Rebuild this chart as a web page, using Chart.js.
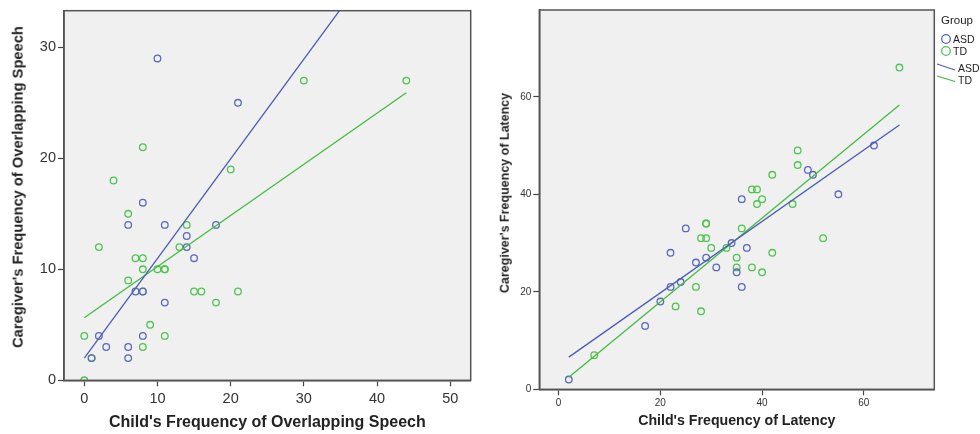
<!DOCTYPE html>
<html>
<head>
<meta charset="utf-8">
<script src="https://cdn.jsdelivr.net/npm/chart.js@4.4.1/dist/chart.umd.min.js"></script>
<style>
  html, body { margin: 0; padding: 0; background: #fff; width: 980px; height: 434px; overflow: hidden; }
  .box { position: absolute; top: 0; height: 434px; }
  #leftBox { left: 0; width: 480px; }
  #rightBox { left: 480px; width: 500px; }
  .lg { position: absolute; font-family: "Liberation Sans", Arial, sans-serif; color: #222; white-space: nowrap; line-height: 1; }
  .ytitle { position: absolute; width: 0; height: 0; }
  .ytitle span { position: absolute; left: 0; top: 0; transform: translate(-50%, -50%) rotate(-90deg);
    font-family: "Liberation Sans", Arial, sans-serif; font-weight: bold; color: #222; white-space: nowrap; line-height: 1; }
  #legendSvg { position: absolute; left: 930px; top: 0; width: 50px; height: 100px; }
</style>
</head>
<body>
<div id="leftBox" class="box"><canvas id="leftChart"></canvas></div>
<div id="rightBox" class="box"><canvas id="rightChart"></canvas></div>

<div class="ytitle" style="left:18px;top:187px;"><span style="font-size:14.7px;">Caregiver's Frequency of Overlapping Speech</span></div>
<div class="ytitle" style="left:505px;top:193px;"><span style="font-size:12.5px;">Caregiver's Frequency of Latency</span></div>

<svg id="legendSvg" viewBox="930 0 50 100">
  <circle cx="946" cy="39" r="4.3" fill="none" stroke="#5a68bd" stroke-width="1.3"/>
  <circle cx="946" cy="51" r="4.3" fill="none" stroke="#4fc44f" stroke-width="1.3"/>
  <line x1="937" y1="64" x2="955" y2="70" stroke="#4a5cb6" stroke-width="1.3"/>
  <line x1="937" y1="76" x2="955" y2="81.5" stroke="#42bc42" stroke-width="1.3"/>
</svg>
<div class="lg" style="left:941px;top:15px;font-size:11.5px;">Group</div>
<div class="lg" style="left:953px;top:34px;font-size:10.5px;">ASD</div>
<div class="lg" style="left:953px;top:46px;font-size:10.5px;">TD</div>
<div class="lg" style="left:958px;top:63px;font-size:10.5px;">ASD</div>
<div class="lg" style="left:958px;top:75px;font-size:10.5px;">TD</div>

<script>
// Overlapping speech: child (x) vs caregiver (y)
const overlapAsdX = [8, 6, 11, 18, 14, 14, 15, 7, 11, 2, 8, 3, 6, 6, 10, 21, 1, 8];
const overlapAsdY = [16, 14, 14, 14, 13, 12, 11, 8, 7, 4, 4, 3, 3, 2, 29, 25, 2, 8];
const overlapTdX = [4, 6, 2, 7, 8, 8, 10, 11, 11, 6, 8, 13, 14, 15, 16, 21, 18, 9, 0, 11, 8, 1, 0, 20, 8, 30, 44];
const overlapTdY = [18, 15, 12, 11, 11, 10, 10, 10, 10, 9, 8, 12, 14, 8, 8, 8, 7, 5, 4, 4, 3, 2, 0, 19, 21, 27, 27];
// Fit lines (end points)
const overlapFitX = [0, 44];
const overlapAsdFitY = [2.0, 41.5];
const overlapTdFitY = [5.64, 25.9];
const overlapXTicks = [0, 10, 20, 30, 40, 50];
const overlapYTicks = [0, 10, 20, 30];

// Latency: child (x) vs caregiver (y)
const latencyAsdX = [36, 25, 34, 29, 22, 27, 31, 35, 36, 22, 24, 20, 17, 49, 50, 55, 37, 62, 2];
const latencyAsdY = [39, 33, 30, 27, 28, 26, 25, 24, 21, 21, 22, 18, 13, 45, 44, 40, 29, 50, 2];
const latencyTdX = [29, 29, 28, 29, 30, 33, 36, 35, 35, 27, 23, 28, 47, 47, 42, 38, 39, 40, 39, 46, 52, 42, 38, 40, 67, 7];
const latencyTdY = [34, 34, 31, 31, 29, 29, 33, 27, 25, 21, 17, 16, 49, 46, 44, 41, 41, 39, 38, 38, 31, 28, 25, 24, 66, 7];
const latencyFitX = [2, 67];
const latencyAsdFitY = [6.6, 54.2];
const latencyTdFitY = [2.45, 58.3];
const latencyXTicks = [0, 20, 40, 60];
const latencyYTicks = [0, 20, 40, 60];

const ASD_POINT = '#5a68bd';
const TD_POINT = '#4fc44f';
const ASD_LINE = '#4a5cb6';
const TD_LINE = '#42bc42';
const SANS = '"Liberation Sans", Arial, sans-serif';

const pts = (xs, ys) => xs.map((x, i) => ({ x, y: ys[i] }));

// Grey plot background and a frame round the plotting area
const plotFrame = {
  id: 'plotFrame',
  beforeDraw(chart) {
    const { ctx, chartArea: a } = chart;
    ctx.save();
    ctx.fillStyle = '#f0f0f0';
    ctx.fillRect(a.left, a.top, a.right - a.left, a.bottom - a.top);
    ctx.restore();
  },
  afterDraw(chart) {
    const { ctx, chartArea: a } = chart;
    ctx.save();
    ctx.strokeStyle = '#555';
    ctx.lineWidth = 1.5;
    ctx.strokeRect(a.left, a.top, a.right - a.left, a.bottom - a.top);
    ctx.restore();
  }
};

function scatterSet(label, xs, ys, color) {
  return {
    type: 'scatter', label, data: pts(xs, ys),
    pointStyle: 'circle', pointRadius: 3.3, pointBorderWidth: 1.3,
    pointBorderColor: color, pointBackgroundColor: 'rgba(0,0,0,0)',
    borderColor: color, backgroundColor: 'rgba(0,0,0,0)', showLine: false
  };
}
function fitSet(label, xs, ys, color) {
  return {
    type: 'line', label, data: pts(xs, ys), showLine: true,
    borderColor: color, borderWidth: 1.3, pointRadius: 0, fill: false, tension: 0
  };
}

function makeAxis(o) {
  return {
    type: 'linear', min: o.min, max: o.max,
    afterBuildTicks: s => { s.ticks = o.ticks.map(v => ({ value: v })); },
    afterFit: s => { if (o.horizontal) s.height = o.size; else s.width = o.size; },
    ticks: { font: { family: SANS, size: o.tickSize }, color: '#333', padding: o.tickPad, maxRotation: 0, autoSkip: false },
    grid: { drawOnChartArea: false, drawTicks: true, tickLength: 6, color: '#444', tickWidth: 1.2 },
    border: { display: true, color: '#444', width: 1.5 },
    title: o.title ? {
      display: true, text: o.title, color: '#222',
      font: { family: SANS, size: o.titleSize, weight: 'bold' },
      padding: o.titlePad
    } : { display: false }
  };
}

function makeChart(id, datasets, xAxis, yAxis, padding) {
  return new Chart(document.getElementById(id), {
    type: 'scatter',
    data: { datasets },
    options: {
      responsive: true, maintainAspectRatio: false, animation: false,
      layout: { padding },
      plugins: { legend: { display: false }, tooltip: { enabled: false } },
      scales: { x: xAxis, y: yAxis }
    },
    plugins: [plotFrame]
  });
}

makeChart('leftChart', [
  fitSet('ASD', overlapFitX, overlapAsdFitY, ASD_LINE),
  fitSet('TD', overlapFitX, overlapTdFitY, TD_LINE),
  scatterSet('ASD', overlapAsdX, overlapAsdY, ASD_POINT),
  scatterSet('TD', overlapTdX, overlapTdY, TD_POINT)
],
makeAxis({ horizontal: true, min: -2.77, max: 52.8, ticks: overlapXTicks, size: 53.7, tickSize: 14.5, tickPad: 4,
  title: "Child's Frequency of Overlapping Speech", titleSize: 16, titlePad: { top: 0, bottom: 1.5 } }),
makeAxis({ horizontal: false, min: 0, max: 33.3, ticks: overlapYTicks, size: 64, tickSize: 14.5, tickPad: 2 }),
{ left: 0, top: 8.3, right: 9.3, bottom: 0 });

makeChart('rightChart', [
  fitSet('ASD', latencyFitX, latencyAsdFitY, ASD_LINE),
  fitSet('TD', latencyFitX, latencyTdFitY, TD_LINE),
  scatterSet('ASD', latencyAsdX, latencyAsdY, ASD_POINT),
  scatterSet('TD', latencyTdX, latencyTdY, TD_POINT)
],
makeAxis({ horizontal: true, min: -3.8, max: 73.86, ticks: latencyXTicks, size: 44.7, tickSize: 10, tickPad: 2,
  title: "Child's Frequency of Latency", titleSize: 14.2, titlePad: { top: 0, bottom: 4 } }),
makeAxis({ horizontal: false, min: 0, max: 77.8, ticks: latencyYTicks, size: 59.3, tickSize: 10, tickPad: 2 }),
{ left: 0, top: 10, right: 45.7, bottom: 0 });
</script>
</body>
</html>
